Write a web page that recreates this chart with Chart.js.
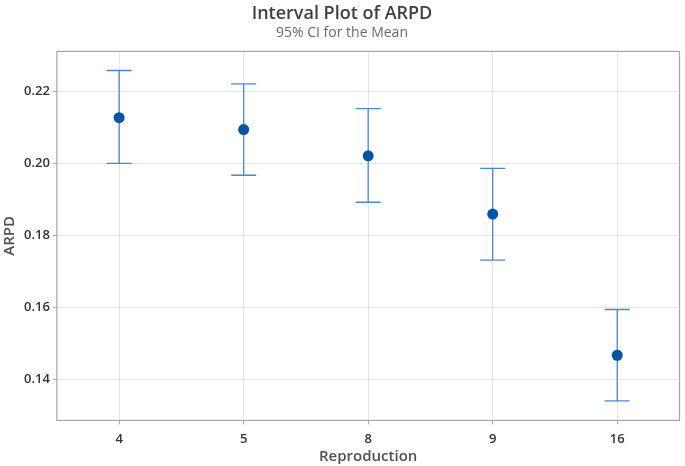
<!DOCTYPE html>
<html><head><meta charset="utf-8">
<script src="https://cdn.jsdelivr.net/npm/chart.js@4/dist/chart.umd.min.js"></script>
<style>html,body{margin:0;padding:0;background:#fff}#wrap{width:685px;height:466px}</style>
</head><body><div id="wrap"><canvas id="c"></canvas></div>
<script>
const categories = ["4", "5", "8", "9", "16"];
const means = [0.2128, 0.2095, 0.2022, 0.1860, 0.1468];
const upper = [0.2259, 0.2222, 0.2153, 0.1987, 0.1595];
const lower = [0.2001, 0.1968, 0.1893, 0.1732, 0.1341];
const yTicks = [0.14, 0.16, 0.18, 0.20, 0.22];

const FONT = "'Open Sans', 'Noto Sans', sans-serif";

const errorBars = {
  id: 'errorBars',
  beforeDatasetsDraw(chart) {
    const {ctx, scales: {x, y}} = chart;
    ctx.save();
    ctx.strokeStyle = '#4a88c9';
    ctx.lineWidth = 1.3;
    categories.forEach((c, i) => {
      const px = x.getPixelForValue(i);
      const yt = y.getPixelForValue(upper[i]);
      const yb = y.getPixelForValue(lower[i]);
      ctx.beginPath();
      ctx.moveTo(px, yt); ctx.lineTo(px, yb);
      ctx.moveTo(px - 12.5, yt); ctx.lineTo(px + 12.5, yt);
      ctx.moveTo(px - 12.5, yb); ctx.lineTo(px + 12.5, yb);
      ctx.stroke();
    });
    ctx.restore();
  },
  afterDraw(chart) {
    const {ctx, chartArea: a} = chart;
    ctx.save();
    ctx.strokeStyle = '#a6a6a6';
    ctx.lineWidth = 1.2;
    ctx.strokeRect(a.left, a.top, a.right - a.left, a.bottom - a.top);
    ctx.restore();
  }
};

new Chart(document.getElementById('c'), {
  type: 'line',
  data: {
    labels: categories,
    datasets: [{
      data: means,
      showLine: false,
      pointRadius: 5.5,
      pointHoverRadius: 5.5,
      pointBackgroundColor: '#0054a6',
      pointBorderColor: '#0054a6',
      pointBorderWidth: 0
    }]
  },
  options: {
    responsive: true,
    maintainAspectRatio: false,
    animation: false,
    events: [],
    layout: {padding: {left: 1, right: 2, top: 0, bottom: 0}},
    plugins: {
      legend: {display: false},
      tooltip: {enabled: false},
      title: {
        display: true,
        text: 'Interval Plot of ARPD',
        color: '#404040',
        font: {family: FONT, size: 18, weight: '600'},
        padding: {top: 3, bottom: 0}
      },
      subtitle: {
        display: true,
        text: '95% CI for the Mean',
        color: '#6a6a6a',
        font: {family: FONT, size: 14, weight: 'normal'},
        padding: {top: 0, bottom: 10}
      }
    },
    scales: {
      x: {
        type: 'category',
        offset: true,
        afterFit(scale) { scale.paddingLeft = 0; scale.paddingRight = 0; },
        grid: {offset: false, color: '#e6e6e6', tickColor: '#a6a6a6', tickLength: 4, drawTicks: true},
        border: {display: false},
        ticks: {color: '#333', font: {family: FONT, size: 13, weight: '600'}, padding: 7},
        title: {display: true, text: 'Reproduction', color: '#505050', font: {family: FONT, size: 15, weight: '600'}, padding: {top: -6, bottom: 0}}
      },
      y: {
        type: 'linear',
        min: 0.1287,
        max: 0.2312,
        afterBuildTicks(scale) { scale.ticks = yTicks.map(v => ({value: v})); },
        grid: {color: '#e6e6e6', tickColor: '#a6a6a6', tickLength: 4},
        border: {display: false},
        ticks: {color: '#333', font: {family: FONT, size: 13, weight: '600'}, padding: 3, callback: v => v.toFixed(2)},
        title: {display: true, text: 'ARPD', color: '#505050', font: {family: FONT, size: 15, weight: '600'}, padding: {top: 0, bottom: 2}}
      }
    }
  },
  plugins: [errorBars]
});
</script></body></html>
